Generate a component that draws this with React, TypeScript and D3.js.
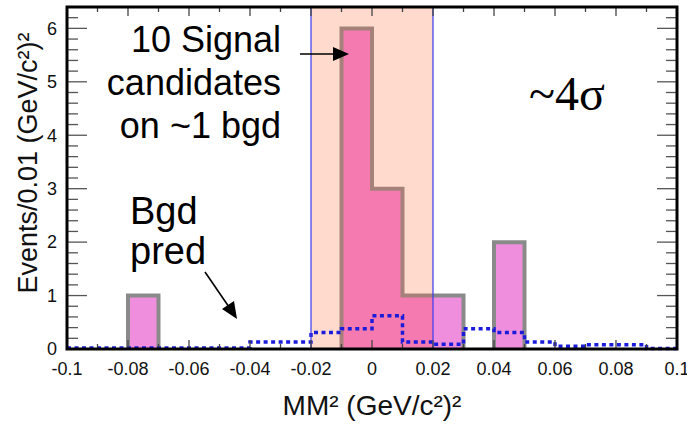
import React from "react";
import * as d3 from "d3";

// ---- data ----
const binEdgesStart = -0.1;
const binWidth = 0.01;
// observed events per 0.01 bin, from -0.1 to 0.1 (20 bins)
const dataCounts = [0, 0, 1, 0, 0, 0, 0, 0, 0, 6, 3, 1, 1, 0, 2, 0, 0, 0, 0, 0];
// background prediction per bin
const bgdPred = [0.02, 0.02, 0.02, 0.02, 0.02, 0.02, 0.13, 0.13, 0.31, 0.38, 0.62, 0.13, 0.09, 0.38, 0.31, 0.13, 0.05, 0.08, 0.08, 0.01];
const xTickLabels = [-0.1, -0.08, -0.06, -0.04, -0.02, 0, 0.02, 0.04, 0.06, 0.08, 0.1];
const yTickLabels = [0, 1, 2, 3, 4, 5, 6];
const signalWindow = [-0.02, 0.02];
const signalText = ["10 Signal", "candidates", "on ~1 bgd"];
const bgdText = ["Bgd", "pred"];

const W = 687;
const H = 426;
const L = 67, R = 677, T = 7, B = 349;
const SANS = "'Liberation Sans', Arial, Helvetica, sans-serif";

export default function App() {
  const x = d3.scaleLinear().domain([-0.1, 0.1]).range([L, R]);
  const y = d3.scaleLinear().domain([0, 6.4]).range([B, T]);

  const edge = (i: number) => binEdgesStart + i * binWidth;

  // build histogram outline segments for contiguous non-zero runs
  const runs: [number, number][][] = [];
  let cur: [number, number][] | null = null;
  dataCounts.forEach((v, i) => {
    if (v > 0) {
      if (!cur) {
        cur = [[edge(i), 0]];
        runs.push(cur);
      }
      cur.push([edge(i), v]);
      cur.push([edge(i + 1), v]);
    } else if (cur) {
      cur.push([edge(i), 0]);
      cur = null;
    }
  });
  if (cur) (cur as [number, number][]).push([edge(dataCounts.length), 0]);

  const line = d3
    .line<[number, number]>()
    .x((d) => x(d[0]))
    .y((d) => y(d[1]));

  const bgdPts: [number, number][] = [];
  bgdPred.forEach((v, i) => {
    bgdPts.push([edge(i), v]);
    bgdPts.push([edge(i + 1), v]);
  });

  const xTicks = d3.range(21).map((i) => -0.1 + i * 0.01);
  const yTicks = d3.range(0, 33).map((i) => i * 0.2);

  const bars = (fill: string, stroke: string) =>
    runs.map((r, i) => (
      <path key={i} d={line(r) || ""} fill={fill} stroke={stroke} strokeWidth={4} strokeLinejoin="miter" />
    ));

  return (
    <svg width={W} height={H} style={{ position: "absolute", left: 0, top: 0, background: "#fff" }} fontFamily={SANS}>
      <defs>
        <clipPath id="inBand">
          <rect x={x(signalWindow[0])} y={0} width={x(signalWindow[1]) - x(signalWindow[0])} height={B} />
        </clipPath>
        <clipPath id="outBand">
          <rect x={0} y={0} width={x(signalWindow[0])} height={B} />
          <rect x={x(signalWindow[1])} y={0} width={W - x(signalWindow[1])} height={B} />
        </clipPath>
      </defs>
      {/* signal band */}
      <rect x={x(signalWindow[0])} y={T} width={x(signalWindow[1]) - x(signalWindow[0])} height={B - T} fill="#FFDACD" />
      {/* histogram */}
      <g clipPath="url(#outBand)">{bars("#EF8EDC", "#8A8A8A")}</g>
      <g clipPath="url(#inBand)">{bars("#F47AB0", "#A6817A")}</g>
      {/* background prediction */}
      <path d={line(bgdPts) || ""} fill="none" stroke="#1B1BDB" strokeWidth={3.5} strokeDasharray="4 3.5" />
      {/* band edges */}
      {signalWindow.map((v) => (
        <line key={v} x1={x(v)} x2={x(v)} y1={T} y2={B} stroke="#3A3AF0" strokeWidth={1.2} />
      ))}
      {/* ticks */}
      {xTicks.map((v, i) => {
        const len = i % 2 === 0 ? 9 : 5;
        return (
          <g key={i} stroke="#444" strokeWidth={1.3}>
            <line x1={x(v)} x2={x(v)} y1={T} y2={T + len} />
            <line x1={x(v)} x2={x(v)} y1={B} y2={B - len} />
          </g>
        );
      })}
      {yTicks.map((v, i) => {
        const len = i % 5 === 0 ? 20 : 11;
        return (
          <g key={i} stroke="#555" strokeWidth={1.3}>
            <line x1={L} x2={L + len} y1={y(v)} y2={y(v)} />
            <line x1={R} x2={R - len} y1={y(v)} y2={y(v)} />
          </g>
        );
      })}
      {/* frame */}
      <rect x={L} y={T} width={R - L} height={B - T} fill="none" stroke="#000" strokeWidth={3} />
      {/* tick labels */}
      {xTickLabels.map((v) => (
        <text key={v} x={x(v)} y={375} fontSize={18} textAnchor="middle" fill="#111">
          {String(v)}
        </text>
      ))}
      {yTickLabels.map((v) => (
        <text key={v} x={57} y={y(v)} dy="0.35em" fontSize={18} textAnchor="end" fill="#111">
          {v}
        </text>
      ))}
      {/* axis titles */}
      <text x={x(0)} y={415} fontSize={28} textAnchor="middle" fill="#111">
        MM² (GeV/c²)²
      </text>
      <text transform="translate(37,163) rotate(-90)" fontSize={27} textAnchor="middle" fill="#111">
        Events/0.01 (GeV/c²)²
      </text>
      {/* annotations */}
      {signalText.map((t, i) => (
        <text key={t} x={281} y={52 + i * 43} fontSize={36} textAnchor="end" fill="#000">
          {t}
        </text>
      ))}
      {bgdText.map((t, i) => (
        <text key={t} x={130} y={224 + i * 40} fontSize={38} fill="#000">
          {t}
        </text>
      ))}
      <text x={529} y={110} fontSize={48} fontFamily="'Liberation Serif', 'Times New Roman', serif" fill="#000">
        ~4σ
      </text>
      {/* arrows */}
      <line x1={300} y1={54} x2={334} y2={54} stroke="#000" strokeWidth={1.6} />
      <path d="M333,47 L349,54 L333,61 Z" fill="#000" />
      <line x1={205} y1={272} x2={229} y2={307} stroke="#000" strokeWidth={1.6} />
      <path d="M237,319 L222,309 L234,301 Z" fill="#000" />
    </svg>
  );
}
